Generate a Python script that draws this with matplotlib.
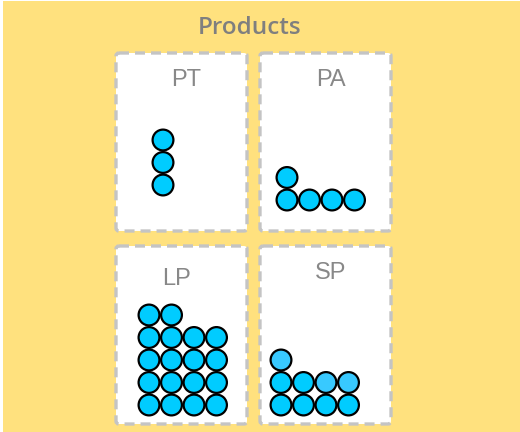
"""Products unit chart: one dashed card per product, one circle per unit."""

import matplotlib

matplotlib.use("Agg")
import matplotlib.pyplot as plt
from matplotlib.patches import Circle, FancyBboxPatch, Rectangle

plt.rcParams["font.family"] = ["Liberation Sans", "DejaVu Sans"]

TITLE = "Products"
CATEGORIES = ["PT", "PA", "LP", "SP"]
COUNTS = [3, 5, 18, 9]
HIGHLIGHTED = [0, 0, 0, 3]   # last n units drawn in the lighter shade

# layout (pixels, y down)
W, H = 520, 432
PANEL_W, PANEL_H = 131, 178
PANELS_XY = [(116, 53), (260, 53), (116, 246), (260, 246)]
N_COLS = [1, 4, 4, 4]
ANCHOR = [(47, 132), (27, 147), (33, 159), (21, 159)]   # bottom-left circle centre, rel. to card
LABEL_XY = [(70, 27), (71, 27), (60, 33), (71, 27)]
STEP = 22.5
RADIUS = 10.4

BG = "#FFE17E"
DARK = "#00CCFF"
LIGHT = "#38C9FF"
GREY_TXT = "#888888"

fig = plt.figure(figsize=(W / 100, H / 100), dpi=100)
ax = fig.add_axes([0, 0, 1, 1])
ax.set_xlim(0, W)
ax.set_ylim(H, 0)
ax.axis("off")
fig.patch.set_facecolor("white")

ax.add_patch(Rectangle((3, 1), W - 3, H - 1, facecolor=BG, edgecolor="none"))
ax.text(250, 28, TITLE, ha="center", va="center", fontsize=17.5,
        fontweight=600, color="#7F7F7F", family=["Open Sans", "DejaVu Sans"])

for k, cat in enumerate(CATEGORIES):
    px, py = PANELS_XY[k]
    ax.add_patch(FancyBboxPatch(
        (px, py), PANEL_W, PANEL_H,
        boxstyle="round,pad=0,rounding_size=3",
        facecolor="white", edgecolor="#C4C4C4",
        linewidth=2.4, linestyle=(0, (3.0, 1.8)),
    ))
    lx, ly = LABEL_XY[k]
    ax.text(px + lx, py + ly, cat, ha="center", va="center",
            fontsize=17, color=GREY_TXT)

    ax0, ay0 = ANCHOR[k]
    n = COUNTS[k]
    for i in range(n):
        col, row = i % N_COLS[k], i // N_COLS[k]
        cx = px + ax0 + col * STEP
        cy = py + ay0 - row * STEP
        face = LIGHT if i >= n - HIGHLIGHTED[k] else DARK
        ax.add_patch(Circle((cx, cy), RADIUS, facecolor=face,
                            edgecolor="black", linewidth=1.6))

fig.savefig("out.png", dpi=100)
